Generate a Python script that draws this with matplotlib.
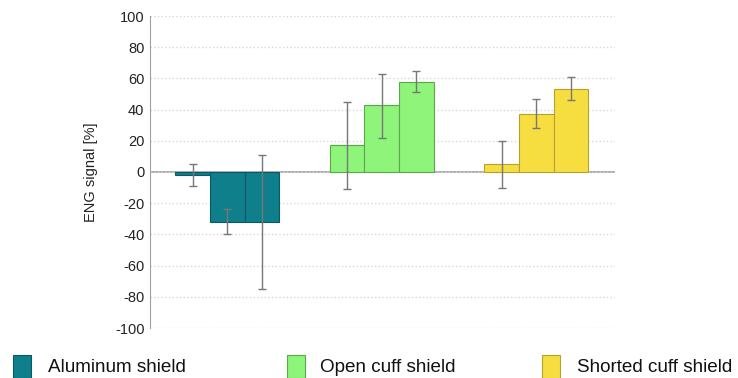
import numpy as np
import matplotlib.pyplot as plt
from matplotlib.patches import Rectangle

plt.rcParams['font.family'] = ['Liberation Sans', 'DejaVu Sans']
plt.rcParams['axes.unicode_minus'] = False

shields = ['Aluminum shield', 'Open cuff shield', 'Shorted cuff shield']
colors = ['#0f7f8b', '#8ef47a', '#f7de40']
edges = ['#0a5a63', '#5aa84a', '#b8a030']

# three conditions per shield
means = [
    [-2, -32, -32],
    [17, 43, 58],
    [5, 37, 53],
]
err_low = [
    [-9, -40, -75],
    [-11, 22, 51],
    [-10, 28, 46],
]
err_high = [
    [5, -24, 11],
    [45, 63, 65],
    [20, 47, 61],
]

fig = plt.figure(figsize=(7.38, 3.78), dpi=100)
ax = fig.add_axes([150/738, 1 - 328/378, 465/738, 312/378])

w = 0.224
for g in range(3):
    xs = g + (np.arange(3) - 1) * w
    m = np.array(means[g], float)
    lo = m - np.array(err_low[g])
    hi = np.array(err_high[g]) - m
    ax.bar(xs, m, width=w, color=colors[g], edgecolor=edges[g], linewidth=0.8, zorder=2)
    ax.errorbar(xs, m, yerr=[lo, hi], fmt='none', ecolor='#777777',
                elinewidth=1.0, capsize=3, capthick=1.0, zorder=3)

ax.set_xlim(-0.5, 2.51)
ax.set_ylim(-100, 100)
ax.set_yticks(np.arange(-100, 101, 20))
ax.set_xticks([])
ax.grid(axis='y', color='#d8d8d8', linestyle=':', linewidth=1.0, zorder=0)
ax.axhline(0, color='#a0a0a0', linewidth=1.2, linestyle='-', zorder=1.5)
for s in ['top', 'right', 'bottom']:
    ax.spines[s].set_visible(False)
ax.spines['left'].set_color('#a0a0a0')
ax.tick_params(axis='y', length=0, labelsize=10.5, pad=4, colors='#222222')
ax.set_ylabel('ENG signal [%]', fontsize=10.5, color='#222222', labelpad=12)

# legend drawn along the bottom
legend_x = [13, 287, 542]
text_x = [48, 320, 577]
for i in range(3):
    fig.add_artist(Rectangle((legend_x[i]/738, 0), 18/738, 23/378,
                             facecolor=colors[i], edgecolor=edges[i], linewidth=0.8,
                             transform=fig.transFigure))
    fig.text(text_x[i]/738, 1 - 367/378, shields[i], fontsize=13.6,
             va='center', ha='left', color='#111111')

fig.savefig('out.png', dpi=100)
